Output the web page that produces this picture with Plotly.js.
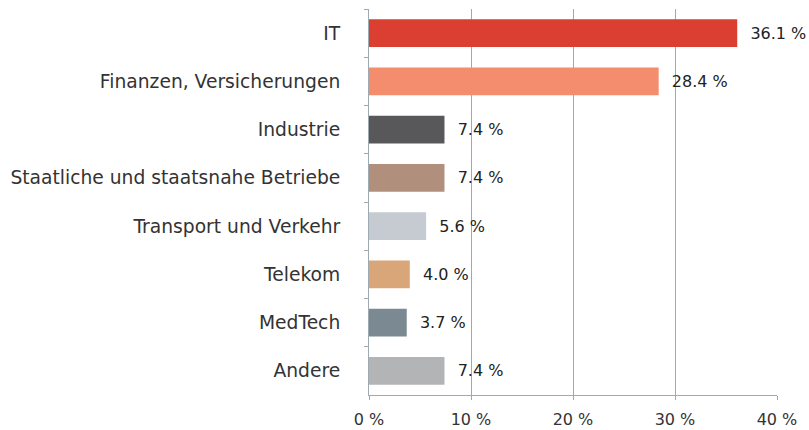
<!DOCTYPE html>
<html><head><meta charset="utf-8">
<script src="https://cdn.plot.ly/plotly-3.0.1.min.js"></script>
<style>html,body{margin:0;padding:0;background:#fff}#chart{width:809px;height:430px}</style>
</head><body><div id="chart"></div>
<script>
const categories = ["IT","Finanzen, Versicherungen","Industrie","Staatliche und staatsnahe Betriebe","Transport und Verkehr","Telekom","MedTech","Andere"];
const values = [36.1, 28.4, 7.4, 7.4, 5.6, 4.0, 3.7, 7.4];
const colors = ["#db3f32","#f48c6e","#58585a","#b08f7c","#c5cbd1","#d9a679","#7b8a92","#b3b4b6"];
const tickVals = [0,10,20,30,40];
const tickText = ["0 %","10 %","20 %","30 %","40 %"];

const labels = values.map(v => "  " + v.toFixed(1) + " %");
const trace = {
  type: "bar", orientation: "h",
  y: categories, x: values,
  marker: {color: colors},
  text: labels, textposition: "outside", cliponaxis: false,
  textfont: {family: "DejaVu Sans, sans-serif", size: 16, color: "#222"},
  hoverinfo: "skip"
};
const layout = {
  width: 809, height: 430,
  margin: {l: 369, r: 32, t: 9, b: 35},
  paper_bgcolor: "#fff", plot_bgcolor: "#fff",
  showlegend: false,
  bargap: 0.42,
  font: {family: "DejaVu Sans, sans-serif", size: 17, color: "#333"},
  xaxis: {range: [0, 40], tickvals: tickVals, ticktext: tickText,
    showgrid: true, gridcolor: "#9eaab2", gridwidth: 1,
    showline: true, linecolor: "#9eaab2", linewidth: 1,
    ticks: "outside", ticklen: 4, tickcolor: "#9eaab2", ticklabelstandoff: 6,
    zeroline: false, tickfont: {size: 16, color: "#333"}, fixedrange: true},
  yaxis: {categoryorder: "array", categoryarray: categories, autorange: "reversed",
    showline: true, linecolor: "#9eaab2", linewidth: 1,
    ticks: "outside", ticklen: 4, tickcolor: "#9eaab2", tickson: "boundaries",
    showgrid: false, zeroline: false, ticklabelstandoff: 24,
    tickfont: {size: 18.7, color: "#333"}, fixedrange: true}
};
Plotly.newPlot("chart", [trace], layout, {displayModeBar: false, staticPlot: true});
</script></body></html>
